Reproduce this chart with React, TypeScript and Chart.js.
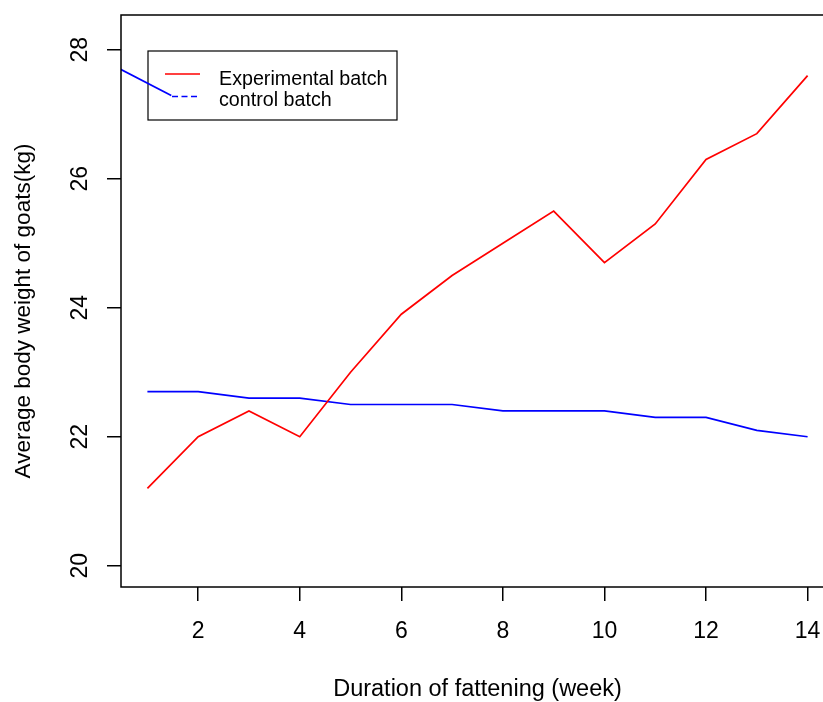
import React, { useEffect, useRef } from "react";
import { Chart, registerables } from "chart.js";

Chart.register(...registerables);

// ---- data ----
const weeks = [1, 2, 3, 4, 5, 6, 7, 8, 9, 10, 11, 12, 13, 14];
const experimentalBatch = [21.2, 22.0, 22.4, 22.0, 23.0, 23.9, 24.5, 25.0, 25.5, 24.7, 25.3, 26.3, 26.7, 27.6];
const controlBatch = [22.7, 22.7, 22.6, 22.6, 22.5, 22.5, 22.5, 22.4, 22.4, 22.4, 22.3, 22.3, 22.1, 22.0];
// stray blue segment that runs into the legend in the original figure
const strayX = [0.3, 1.47];
const strayY = [27.77, 27.29];

const xTickValues = [2, 4, 6, 8, 10, 12, 14];
const yTickValues = [20, 22, 24, 26, 28];
const xLimits = [0.48, 14.52];
const yLimits = [19.67, 28.54];

const seriesNames = ["Experimental batch", "control batch"];
const xTitle = "Duration of fattening (week)";
const yTitle = "Average body weight of goats(kg)";

const FONT = "'Liberation Sans', Arial, Helvetica, sans-serif";

const boxPlugin = {
  id: "rBox",
  afterDraw(chart: any) {
    const { ctx, chartArea: a } = chart;
    ctx.save();
    ctx.strokeStyle = "#000";
    ctx.lineWidth = 1.5;
    ctx.strokeRect(a.left, a.top, a.right - a.left, a.bottom - a.top);
    // y-axis title (R centres it slightly lower than the plot centre here)
    ctx.fillStyle = "#000";
    ctx.font = `22.5px ${FONT}`;
    ctx.textAlign = "center";
    ctx.textBaseline = "middle";
    ctx.translate(24, (a.top + a.bottom) / 2 + 10);
    ctx.rotate(-Math.PI / 2);
    ctx.fillText(yTitle, 0, 0);
    ctx.restore();
  },
};

const legendPlugin = {
  id: "rLegend",
  beforeDatasetsDraw(chart: any) {
    const { ctx, chartArea: a } = chart;
    const bx = a.left + 27;
    const by = a.top + 36;
    const bw = 249;
    const bh = 69;
    ctx.save();
    ctx.strokeStyle = "#000";
    ctx.lineWidth = 1.2;
    ctx.strokeRect(bx, by, bw, bh);

    ctx.lineWidth = 1.6;
    ctx.strokeStyle = "#ff0000";
    ctx.beginPath();
    ctx.moveTo(bx + 17, by + 23);
    ctx.lineTo(bx + 52, by + 23);
    ctx.stroke();

    ctx.strokeStyle = "#0000ff";
    ctx.setLineDash([6, 3.5]);
    ctx.beginPath();
    ctx.moveTo(bx + 24, by + 45.5);
    ctx.lineTo(bx + 49, by + 45.5);
    ctx.stroke();
    ctx.setLineDash([]);

    ctx.fillStyle = "#000";
    ctx.font = `19.7px ${FONT}`;
    ctx.textBaseline = "alphabetic";
    ctx.textAlign = "left";
    ctx.fillText(seriesNames[0], bx + 71, by + 33.5);
    ctx.fillText(seriesNames[1], bx + 71, by + 55);
    ctx.restore();
  },
};

const zeroPadding = (s: any) => {
  s.paddingTop = 0;
  s.paddingBottom = 0;
  s.paddingLeft = 0;
  s.paddingRight = 0;
};

export default function App() {
  const ref = useRef<HTMLCanvasElement | null>(null);

  useEffect(() => {
    if (!ref.current) return;
    const chart = new Chart(ref.current, {
      type: "line",
      data: {
        datasets: [
          {
            label: seriesNames[0],
            data: weeks.map((w, i) => ({ x: w, y: experimentalBatch[i] })),
            borderColor: "#ff0000",
            borderWidth: 1.7,
            pointRadius: 0,
            tension: 0,
          },
          {
            label: seriesNames[1],
            data: weeks.map((w, i) => ({ x: w, y: controlBatch[i] })),
            borderColor: "#0000ff",
            borderWidth: 1.7,
            pointRadius: 0,
            tension: 0,
          },
          {
            label: "stray",
            data: strayX.map((x, i) => ({ x, y: strayY[i] })),
            borderColor: "#0000ff",
            borderWidth: 1.7,
            pointRadius: 0,
            tension: 0,
          },
        ],
      },
      options: {
        animation: false,
        responsive: false,
        devicePixelRatio: 1,
        events: [],
        layout: { padding: { left: 0, right: 16, top: 15, bottom: 0 } },
        plugins: {
          legend: { display: false },
          tooltip: { enabled: false },
        },
        scales: {
          x: {
            type: "linear",
            min: xLimits[0],
            max: xLimits[1],
            afterBuildTicks: (s: any) => {
              s.ticks = xTickValues.map((v) => ({ value: v }));
            },
            afterFit: (s: any) => {
              s.height = 115;
              zeroPadding(s);
            },
            border: { display: false },
            grid: {
              drawOnChartArea: false,
              drawTicks: true,
              tickLength: 14,
              color: "#000",
              lineWidth: 1.5,
            },
            ticks: {
              color: "#000",
              font: { family: FONT, size: 23 },
              padding: 17,
              maxRotation: 0,
              minRotation: 0,
              autoSkip: false,
            },
            title: {
              display: true,
              text: xTitle,
              color: "#000",
              font: { family: FONT, size: 23.5, lineHeight: 1 },
              padding: { top: 0, bottom: 0.5 },
            },
          },
          y: {
            type: "linear",
            min: yLimits[0],
            max: yLimits[1],
            afterBuildTicks: (s: any) => {
              s.ticks = yTickValues.map((v) => ({ value: v }));
            },
            afterFit: (s: any) => {
              s.width = 121;
              zeroPadding(s);
            },
            border: { display: false },
            grid: {
              drawOnChartArea: false,
              drawTicks: true,
              tickLength: 14,
              color: "#000",
              lineWidth: 1.5,
            },
            ticks: {
              color: "#000",
              font: { family: FONT, size: 23 },
              padding: 14,
              minRotation: 90,
              maxRotation: 90,
              crossAlign: "center",
              autoSkip: false,
            },
            title: { display: false },
          },
        },
      },
      plugins: [legendPlugin, boxPlugin],
    });
    return () => chart.destroy();
  }, []);

  return (
    <div
      style={{
        position: "absolute",
        left: 0,
        top: 0,
        width: 823,
        height: 702,
        overflow: "hidden",
        background: "#fff",
      }}
    >
      <canvas ref={ref} width={850} height={702} style={{ display: "block" }} />
    </div>
  );
}
